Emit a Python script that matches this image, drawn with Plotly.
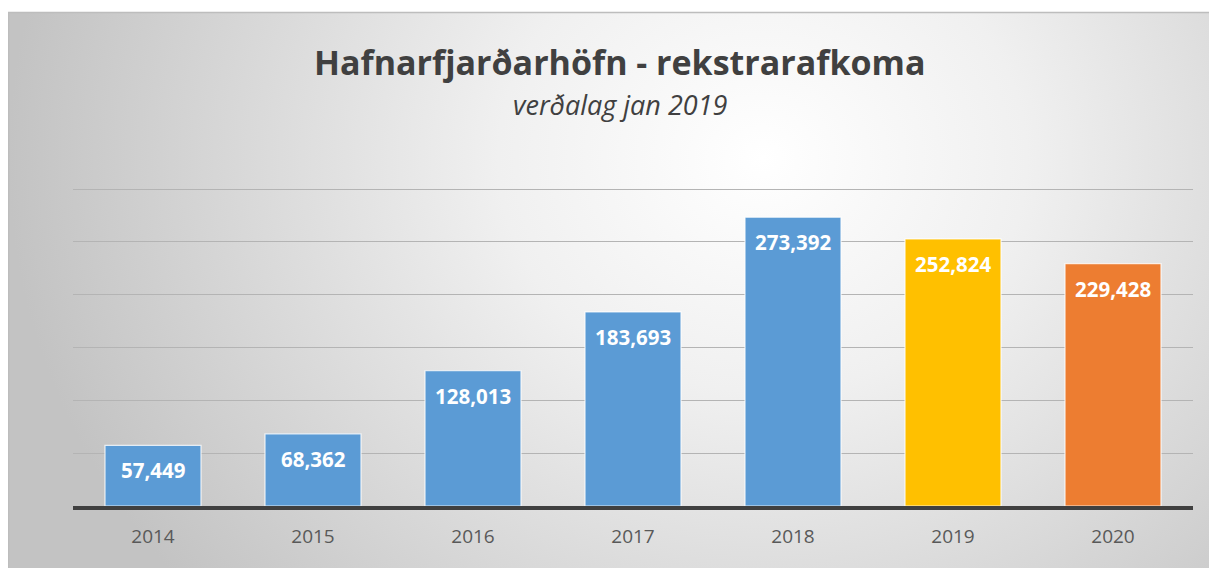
import base64
import plotly.graph_objects as go

years = ["2014", "2015", "2016", "2017", "2018", "2019", "2020"]
values = [57449, 68362, 128013, 183693, 273392, 252824, 229428]
colors = ["#5B9BD5", "#5B9BD5", "#5B9BD5", "#5B9BD5", "#5B9BD5", "#FFC000", "#ED7D31"]
labels = [f"{v:,}" for v in values]

W, H = 1217, 568
OFF = 8  # page body margin


def px(x):
    return (x - OFF) / W


def py(y):
    return 1 - (y - OFF) / H


svg = """<svg xmlns='http://www.w3.org/2000/svg' width='1217' height='560' viewBox='0 0 1217 560' preserveAspectRatio='none'>
<defs><radialGradient id='g' cx='0.62' cy='0.26' r='0.62' gradientTransform='translate(0.62,0.26) scale(1,1.9) translate(-0.62,-0.26)'>
<stop offset='0' stop-color='#ffffff'/><stop offset='0.35' stop-color='#f0f0f0'/><stop offset='1' stop-color='#c3c3c3'/></radialGradient></defs>
<rect width='1217' height='560' fill='url(#g)'/></svg>"""
src = "data:image/svg+xml;base64," + base64.b64encode(svg.encode()).decode()

fig = go.Figure()
fig.add_trace(go.Bar(
    x=years, y=values,
    marker=dict(color=colors, line=dict(color="rgba(255,255,255,0.8)", width=1.2)),
    hoverinfo="skip",
))

for i, (v, lab) in enumerate(zip(values, labels)):
    fig.add_annotation(x=i, y=v, text=f"<b>{lab}</b>", showarrow=False,
                       yshift=-25, yanchor="middle", xanchor="center",
                       font=dict(family="Open Sans", size=20.5, color="white"))

fig.add_layout_image(dict(source=src, xref="paper", yref="paper",
                          x=0, y=py(12), sizex=1, sizey=py(12),
                          xanchor="left", yanchor="top", sizing="stretch", layer="below"))

fig.add_shape(type="rect", xref="paper", yref="paper",
              x0=0.5 / W, x1=1.01, y0=-0.01, y1=py(12.5),
              line=dict(color="#bdbdbd", width=1.5), fillcolor="rgba(0,0,0,0)", layer="below")

fig.add_annotation(xref="paper", yref="paper", x=px(620), y=py(62),
                   text="<b>Hafnarfjarðarhöfn - rekstrarafkoma</b>", showarrow=False,
                   xanchor="center", yanchor="middle",
                   font=dict(family="Open Sans", size=34, color="#404040"))
fig.add_annotation(xref="paper", yref="paper", x=px(620), y=py(104),
                   text="<i>verðalag jan 2019</i>", showarrow=False,
                   xanchor="center", yanchor="middle",
                   font=dict(family="Open Sans", size=27, color="#404040"))

fig.update_layout(
    width=W, height=H,
    margin=dict(l=0, r=0, t=0, b=0),
    paper_bgcolor="white",
    plot_bgcolor="rgba(0,0,0,0)",
    showlegend=False,
    bargap=0.4,
    xaxis=dict(type="category", range=[-0.5, len(years) - 0.5],
               domain=[px(73), px(1193)], showline=True, linecolor="#404040", linewidth=4,
               ticks="outside", ticklen=10, tickcolor="rgba(0,0,0,0)",
               tickfont=dict(family="Open Sans", size=19, color="#595959"),
               showgrid=False, fixedrange=True),
    yaxis=dict(domain=[py(506), py(188)], range=[0, 301000], dtick=50000,
               showgrid=True, gridcolor="#b4b4b4", gridwidth=1, showticklabels=False,
               zeroline=False, fixedrange=True),
)

fig.write_html("out.html")
